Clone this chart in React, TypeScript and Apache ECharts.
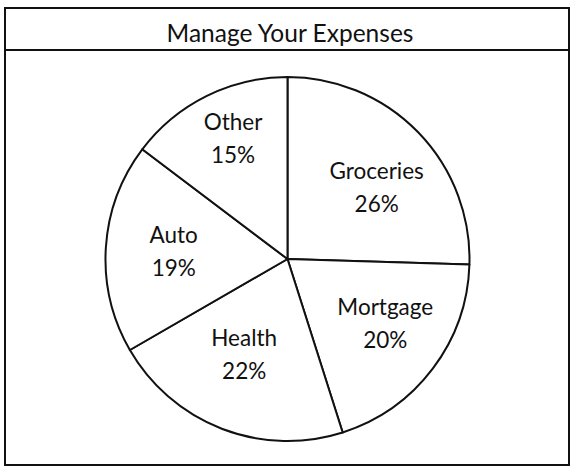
import React, { useEffect, useRef } from "react";
import * as echarts from "echarts";

const titleText = "Manage Your Expenses";
const categories = ["Groceries", "Mortgage", "Health", "Auto", "Other"];
const percents = [26, 20, 22, 19, 15];
// small nudges of each label from the slice's mid-ring position
const labelNudges: [number, number][] = [[3, 12], [2, -8], [0, -17], [6, -1], [-1, -14]];

export default function App() {
  const ref = useRef<HTMLDivElement>(null);
  useEffect(() => {
    if (!ref.current) return;
    const chart = echarts.init(ref.current, null, { renderer: "svg" });
    const data = categories.map((name, i) => ({ name, value: percents[i] }));
    const labelData = categories.map((name, i) => ({
      name,
      value: percents[i],
      label: { offset: labelNudges[i] },
    }));
    const font = "Lato, 'Open Sans', sans-serif";
    chart.setOption({
      animation: false,
      backgroundColor: "#ffffff",
      title: {
        text: titleText,
        left: 285,
        top: 15,
        textAlign: "center",
        textStyle: { fontFamily: font, fontSize: 24.5, fontWeight: "normal", color: "#111" },
      },
      graphic: [
        {
          type: "rect",
          shape: { x: 5, y: 8, width: 564, height: 457 },
          style: { fill: "none", stroke: "#111", lineWidth: 2 },
          silent: true,
        },
        {
          type: "line",
          shape: { x1: 5, y1: 50, x2: 569, y2: 50 },
          style: { stroke: "#111", lineWidth: 2 },
          silent: true,
        },
      ],
      series: [
        {
          type: "pie",
          center: [287.5, 259],
          radius: [0, 182],
          startAngle: 90,
          clockwise: true,
          silent: true,
          label: { show: false },
          labelLine: { show: false },
          itemStyle: { color: "#ffffff", borderColor: "#111", borderWidth: 2 },
          data,
        },
        {
          type: "pie",
          center: [287.5, 259],
          radius: [52, 182],
          startAngle: 90,
          clockwise: true,
          silent: true,
          itemStyle: { color: "rgba(0,0,0,0)", borderWidth: 0 },
          labelLine: { show: false },
          label: {
            show: true,
            position: "inside",
            formatter: (p: any) => `${p.name}\n${p.value}%`,
            fontFamily: font,
            fontSize: 22.5,
            lineHeight: 33,
            color: "#111",
          },
          data: labelData,
        },
      ],
    });
    return () => chart.dispose();
  }, []);
  return <div ref={ref} style={{ width: 571, height: 467, position: "absolute", left: 0, top: 0 }} />;
}
